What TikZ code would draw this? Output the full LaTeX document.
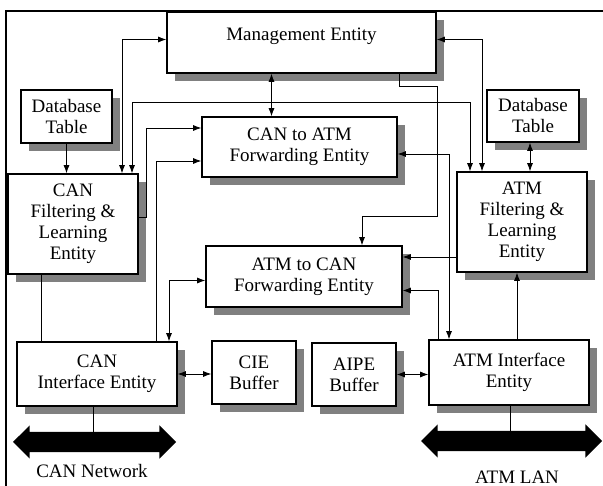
\documentclass[tikz,border=0pt]{standalone}
\usepackage{fontspec}
\setmainfont{Liberation Serif}
\usetikzlibrary{shapes.arrows,shadows,arrows.meta}
\tikzset{>={Latex[length=8pt,width=6pt]}}
\tikzset{
  entity/.style={draw, line width=1.6pt, fill=white, align=center, inner sep=0pt,
    font=\fontsize{19}{21}\selectfont,
    drop shadow={shadow xshift=8pt, shadow yshift=-8pt, fill=black!50, opacity=1}},
  bus/.style={double arrow, fill=black, inner sep=0pt, text height=10pt, text depth=10pt,
    double arrow head extend=6.5pt, double arrow tip angle=90},
  link/.style={line width=0.8pt}
}

\begin{document}
\begin{tikzpicture}[x=1pt, y=-1pt]
	\useasboundingbox (0,0) rectangle (603,486);
	\draw[line width=1.6pt] (6,486) -- (6,11) -- (603,11);

	% entities
	\node[entity, minimum width=269pt, minimum height=61pt, text depth=16pt] (mgmt) at (301.5,42.5) {Management Entity};
	\node[entity, minimum width=91pt, minimum height=53pt] (dbl) at (66.5,116.5) {Database\\Table};
	\node[entity, minimum width=92pt, minimum height=52pt] (dbr) at (533,116) {Database\\Table};
	\node[entity, minimum width=130pt, minimum height=100pt] (canfl) at (73,224) {CAN\\Filtering \&\\Learning\\Entity};
	\node[entity, minimum width=130pt, minimum height=100pt] (atmfl) at (522,222) {ATM\\Filtering \&\\Learning\\Entity};
	\node[entity, minimum width=195pt, minimum height=60pt] (c2a) at (299.5,147) {CAN to ATM\\Forwarding Entity};
	\node[entity, minimum width=196pt, minimum height=61pt] (a2c) at (304,276.5) {ATM to CAN\\Forwarding Entity};
	\node[entity, minimum width=160pt, minimum height=64pt] (canif) at (97,374) {CAN\\Interface Entity};
	\node[entity, minimum width=84pt, minimum height=63pt] (cie) at (254,372.5) {CIE\\Buffer};
	\node[entity, minimum width=84pt, minimum height=63pt] (aipe) at (354,374.5) {AIPE\\Buffer};
	\node[entity, minimum width=160pt, minimum height=65pt] (atmif) at (509,372.5) {ATM Interface\\Entity};

	% networks
	\node[bus, minimum height=163pt] (canbus) at (94.5,442) {};
	\node[bus, minimum height=181pt] (atmbus) at (511.5,441) {};
	\node[font=\fontsize{19}{21}\selectfont] (canlbl) at (92,471) {CAN Network};
	\node[font=\fontsize{19}{21}\selectfont] (atmlbl) at (517,477) {ATM LAN};

	% links
	\draw[link, <->] ([yshift=3pt]mgmt.west) -| ([xshift=49pt]canfl.north);
	\draw[link, <->] ([xshift=59pt]canfl.north) -- ([xshift=59pt]canfl.north |- 0,102) -| ([xshift=-52pt]atmfl.north);
	\draw[link, <->] ([xshift=-30pt]mgmt.south) -- ([xshift=-30pt]mgmt.south |- c2a.north);
	\draw[link, <->] ([yshift=3pt]mgmt.east) -| ([xshift=-40pt]atmfl.north);
	\draw[link, ->] (dbl.south) -- (dbl.south |- canfl.north);
	\draw[link, <->] ([xshift=-3pt]dbr.south) -- ([xshift=-3pt]dbr.south |- atmfl.north);
	\draw[link, ->] ([xshift=98pt]mgmt.south) |- (437,86) |- (362,216) -- ([xshift=58pt]a2c.north);
	\draw[link, ->] ([yshift=7pt]canfl.east) -- ++(8,0) |- ([yshift=19pt]c2a.west);
	\draw[link, ->] ([xshift=59pt]canif.north) |- ([yshift=-14pt]c2a.west);
	\draw[link, <->] ([yshift=-4pt]a2c.west) -| ([xshift=72pt]canif.north);
	\draw[link, <->] (canif.east) -- (canif.east -| cie.west);
	\draw[link, <->] (aipe.east) -- (aipe.east -| atmif.west);
	\draw[link, ->] ([xshift=8pt]atmif.north) -- ([xshift=8pt]atmif.north |- atmfl.south);
	\draw[link, ->] ([yshift=-35pt]atmfl.west) -- ([yshift=-35pt]atmfl.west -| a2c.east);
	\draw[link, ->] ([xshift=-71pt]atmif.north) |- ([yshift=-14pt]a2c.east);
	\draw[link, <->] ([yshift=-7pt]c2a.east) -| ([xshift=-60pt]atmif.north);
	\draw[link] ([xshift=-32pt]canfl.south) -- ([xshift=-32pt]canfl.south |- canif.north);
	\draw[link] ([xshift=-4pt]canif.south) -- ([xshift=-4pt]canif.south |- canbus);
	\draw[link] ([xshift=1pt]atmif.south) -- ([xshift=1pt]atmif.south |- atmbus);
\end{tikzpicture}
\end{document}
